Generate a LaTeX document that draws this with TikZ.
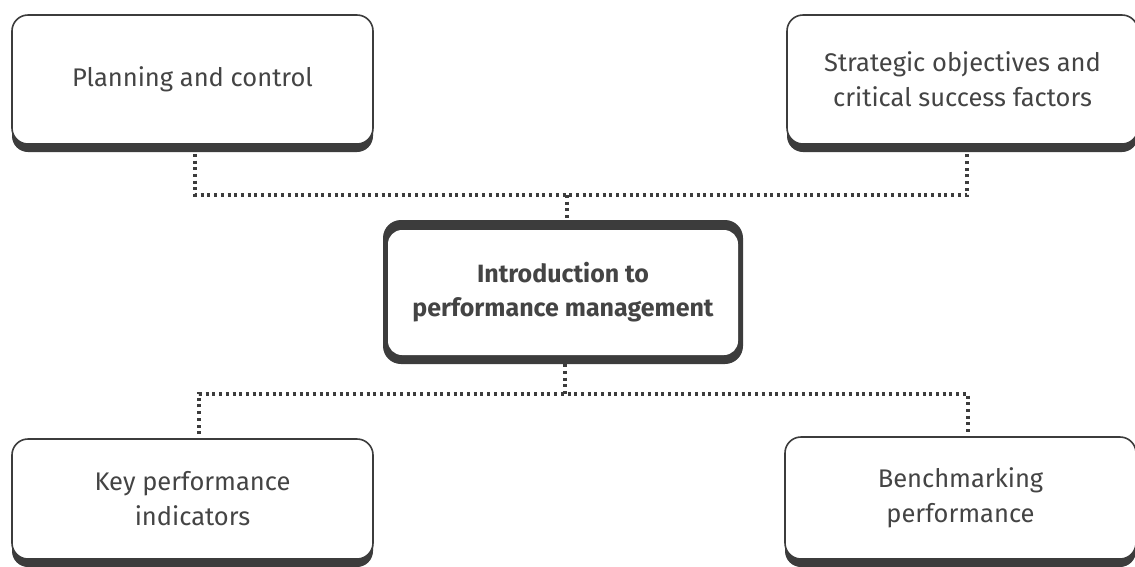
\documentclass[tikz,border=0pt]{standalone}
\usepackage{fontspec}
\setmainfont{Fira Sans}
\usetikzlibrary{shadows}
\definecolor{dk}{HTML}{3C3C3C}
\definecolor{txt}{HTML}{444444}
\begin{document}
\begin{tikzpicture}[x=1pt,y=-1pt,
  box/.style={draw=dk, line width=1.6pt, fill=white, rounded corners=16pt,
    inner sep=0pt, align=center, text=txt,
    font=\fontsize{25.5}{35}\selectfont,
    drop shadow={shadow xshift=0pt, shadow yshift=-8pt, fill=dk, opacity=1}},
  mainbox/.style={fill=dk, rounded corners=18pt, inner sep=0pt, align=center,
    text=txt, font=\bfseries\fontsize{25}{34}\selectfont,
    path picture={\fill[white, rounded corners=14pt]
      ([shift={(5pt,-10pt)}]path picture bounding box.north west) rectangle
      ([shift={(-5pt,9pt)}]path picture bounding box.south east);}},
  dotline/.style={draw=dk, line width=3.4pt, line cap=butt, dash pattern=on 3pt off 3.7pt}]
\useasboundingbox[fill=white] (0,0) rectangle (1135,566);

\node[box, minimum width=361pt, minimum height=129pt] (tl) at (192.5,79.5) {Planning and control};
\node[box, minimum width=351pt, minimum height=129pt] (tr) at (962.5,79.5) {Strategic objectives and\\critical success factors};
\node[mainbox, minimum width=360pt, minimum height=144pt] (c) at (563,292) {Introduction to\\performance management};
\node[box, minimum width=361pt, minimum height=120pt] (bl) at (192.5,499) {Key performance\\indicators};
\node[box, minimum width=351pt, minimum height=122pt] (br) at (960.5,498) {Benchmarking\\performance};

\coordinate (jt) at (567,195);
\coordinate (jb) at (565,394);

\draw[dotline] ([xshift=2.5pt,yshift=-9pt]tl.south) |- (jt) -| ([xshift=4.5pt,yshift=-9pt]tr.south);
\draw[dotline] (jt) -- (jt |- c.north);
\draw[dotline] (jb |- c.south) -- (jb);
\draw[dotline] ([xshift=6.5pt,yshift=4pt]bl.north) |- (jb) -| ([xshift=7.5pt,yshift=4pt]br.north);
\end{tikzpicture}
\end{document}
